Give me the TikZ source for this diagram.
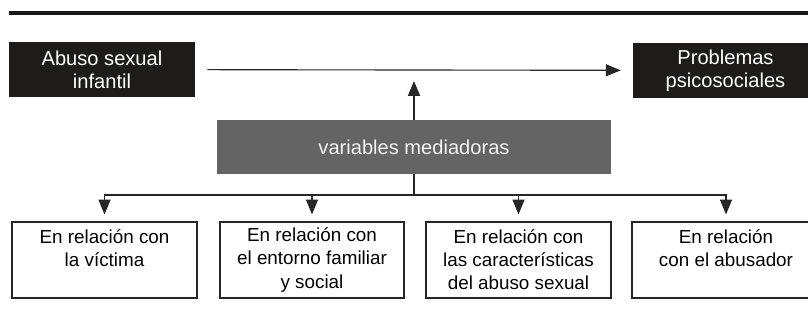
\documentclass[tikz,border=0pt]{standalone}
\usepackage{fontspec}
\setmainfont{Liberation Sans}
\usetikzlibrary{arrows.meta}

\definecolor{boxblack}{HTML}{1E1B1B}
\definecolor{boxgray}{HTML}{646464}

\begin{document}
\begin{tikzpicture}[
    txt/.style={font=\fontsize{13.4}{16.4}\selectfont, align=center},
    bigtxt/.style={font=\fontsize{14.3}{16.6}\selectfont, align=center},
    blackbox/.style={bigtxt, fill=boxblack, text=white, minimum height=1.375cm, inner sep=0pt},
    graybox/.style={bigtxt, fill=boxgray, text=white!95!black, minimum height=1.35cm, inner sep=0pt},
    relbox/.style={txt, draw=black!85, line width=0.8pt, minimum height=1.9cm, inner sep=0pt},
    arr/.style={-{Triangle[length=0.37cm,width=0.3cm]}, line width=0.8pt, draw=black!85}
  ]
            \useasboundingbox (0,0) rectangle (20.2,8.075);
            \draw[line width=2.2pt, black!90] (0.225,7.75) -- (20.5,7.75);
            \node[blackbox, minimum width=4.65cm] at (2.55,6.3375) (abuso) {Abuso sexual\\infantil};
            \node[blackbox, minimum width=4.625cm] at (18.1375,6.3125) (problemas) {Problemas\\psicosociales};
            \node[graybox, minimum width=9.85cm] at (10.35,4.4) (mediadoras) {variables mediadoras};
            \node[relbox, minimum width=4.625cm] at (2.6125,1.575) (victima) {En relación con\\la víctima\\\mbox{}};
            \node[relbox, minimum width=4.6cm] at (7.8,1.575) (entorno) {En relación con\\el entorno familiar\\y social};
            \node[relbox, minimum width=4.625cm] at (12.9625,1.575) (caract) {En relación con\\las características\\del abuso sexual};
            \node[relbox, minimum width=4.7cm] at (18.15,1.575) (abusador) {En relación\\con el abusador\\\mbox{}};
            \coordinate (up) at (10.35,6.05);
            \coordinate (split) at (10.35,3.2);
            \draw[arr, shorten <=0.3cm, shorten >=0.3cm] (abuso) to (problemas);
            \draw[arr] (mediadoras.north) to (up);
            \draw[line width=0.8pt, black!85] (mediadoras.south) to (split);
            \draw[arr, shorten >=0.175cm] (split) -| (victima.north);
            \draw[arr, shorten >=0.175cm] (split) -| (entorno.north);
            \draw[arr, shorten >=0.175cm] (split) -| (caract.north);
            \draw[arr, shorten >=0.175cm] (split) -| (abusador.north);
        \end{tikzpicture}
\end{document}
